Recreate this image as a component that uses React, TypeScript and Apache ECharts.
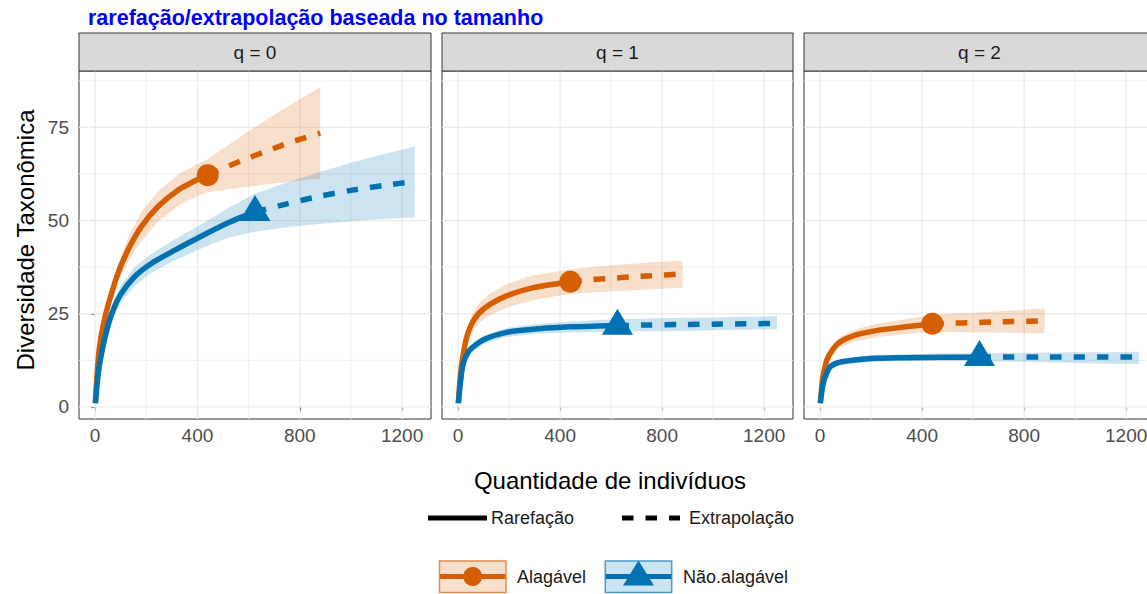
import React, { useEffect, useRef } from 'react';
import * as echarts from 'echarts';

const FONT = '"Liberation Sans", Arial, Helvetica, sans-serif';
const ORANGE = '#D55E00';
const BLUE = '#0072B2';
const ORANGE_BAND = 'rgba(213,94,0,0.2)';
const BLUE_BAND = 'rgba(0,114,178,0.2)';

const panelTitles = ['q = 0', 'q = 1', 'q = 2'];
const xTicks = [0, 400, 800, 1200];
const xMinor = [200, 600, 1000];
const yTicks = [0, 25, 50, 75];
const yMinor = [12.5, 37.5, 62.5, 87.5];

const alaObs = 440;
const naoObs = 625;

// ---------- q = 0 ----------
const alaQ0RareX = [1, 10, 20, 40, 60, 90, 130, 180, 245, 325, 400, 440];
const alaQ0RareY = [1, 11, 17.5, 24.5, 29.5, 36, 42.3, 48.3, 53.7, 58.2, 61, 62.2];
const alaQ0RareLo = [1, 10, 16, 22.8, 27.5, 33.8, 39, 44.3, 49.6, 54, 56.6, 57.6];
const alaQ0RareHi = [1, 12, 19, 26.2, 31.5, 38.2, 45.6, 52.3, 57.8, 62.4, 65.2, 66.5];
const alaQ0ExtX = [440, 520, 600, 680, 760, 880];
const alaQ0ExtY = [62.2, 64.6, 66.8, 68.9, 70.9, 73.5];
const alaQ0ExtLo = [57.6, 58.4, 59.1, 59.8, 60.4, 61.3];
const alaQ0ExtHi = [66.5, 70.3, 74, 77.5, 80.9, 85.8];

const naoQ0RareX = [1, 10, 20, 40, 65, 100, 155, 220, 310, 415, 520, 575, 625];
const naoQ0RareY = [1, 7.5, 12.5, 19, 25, 30.2, 35, 38.5, 42, 45.8, 49.4, 51, 52.3];
const naoQ0RareLo = [1, 6.8, 11.3, 17.5, 23, 27.8, 32.5, 36, 39.3, 42.5, 45.4, 46.3, 47];
const naoQ0RareHi = [1, 8.2, 13.7, 20.5, 27, 32.6, 37.6, 41.1, 44.9, 49, 53.4, 55.4, 57.3];
const naoQ0ExtX = [625, 750, 875, 1000, 1125, 1250];
const naoQ0ExtY = [52.3, 54.5, 56.5, 58.1, 59.4, 60.5];
const naoQ0ExtLo = [47, 48.2, 49.1, 49.8, 50.4, 50.9];
const naoQ0ExtHi = [57.3, 60.2, 63, 65.5, 67.8, 69.9];

// ---------- q = 1 ----------
const alaQ1RareX = [1, 10, 20, 35, 55, 80, 125, 190, 295, 400, 440];
const alaQ1RareY = [1, 9, 14, 19, 22.5, 25, 27.5, 29.8, 32, 33.2, 33.6];
const alaQ1RareLo = [1, 8.2, 12.6, 17.2, 20.2, 22.4, 24.6, 26.6, 28.7, 29.9, 30.3];
const alaQ1RareHi = [1, 9.8, 15.4, 20.8, 24.8, 27.6, 30.4, 33, 35.3, 36.5, 36.9];
const alaQ1ExtX = [440, 520, 600, 680, 760, 880];
const alaQ1ExtY = [33.6, 34.1, 34.5, 34.9, 35.2, 35.7];
const alaQ1ExtLo = [30.3, 30.7, 31, 31.3, 31.6, 32];
const alaQ1ExtHi = [36.9, 37.5, 38, 38.4, 38.8, 39.3];

const naoQ1RareX = [1, 10, 20, 45, 100, 190, 320, 440, 550, 625];
const naoQ1RareY = [1, 7, 11.5, 15.2, 18, 20, 21, 21.5, 21.7, 21.8];
const naoQ1RareLo = [1, 6.5, 10.7, 14.2, 16.9, 18.8, 19.7, 20, 20.1, 20.1];
const naoQ1RareHi = [1, 7.5, 12.3, 16.2, 19.1, 21.2, 22.3, 22.9, 23.3, 23.5];
const naoQ1ExtX = [625, 750, 875, 1000, 1125, 1250];
const naoQ1ExtY = [21.8, 22, 22.1, 22.2, 22.3, 22.4];
const naoQ1ExtLo = [20.1, 20.3, 20.4, 20.6, 20.7, 20.8];
const naoQ1ExtHi = [23.5, 23.7, 23.9, 24, 24.2, 24.3];

// ---------- q = 2 ----------
const alaQ2RareX = [1, 10, 20, 35, 70, 135, 230, 335, 440];
const alaQ2RareY = [1, 7.5, 11, 13.8, 17, 19.2, 20.6, 21.5, 22.3];
const alaQ2RareLo = [1, 6.9, 10, 12.6, 15.6, 17.6, 18.8, 19.5, 20.1];
const alaQ2RareHi = [1, 8.1, 12, 15, 18.4, 20.8, 22.4, 23.5, 24.6];
const alaQ2ExtX = [440, 520, 600, 680, 760, 880];
const alaQ2ExtY = [22.3, 22.5, 22.6, 22.8, 22.9, 23.1];
const alaQ2ExtLo = [20.1, 20.1, 20, 20, 19.9, 19.8];
const alaQ2ExtHi = [24.6, 25, 25.3, 25.6, 25.9, 26.4];

const naoQ2RareX = [1, 10, 20, 40, 85, 200, 330, 480, 625];
const naoQ2RareY = [1, 5.5, 8, 10.8, 12.1, 13, 13.2, 13.3, 13.4];
const naoQ2RareLo = [1, 5.1, 7.4, 10, 11.3, 12.1, 12.3, 12.3, 12.3];
const naoQ2RareHi = [1, 5.9, 8.6, 11.6, 12.9, 13.9, 14.1, 14.3, 14.4];
const naoQ2ExtX = [625, 750, 875, 1000, 1125, 1250];
const naoQ2ExtY = [13.4, 13.4, 13.4, 13.4, 13.4, 13.4];
const naoQ2ExtLo = [12.3, 12.1, 12, 11.8, 11.6, 11.5];
const naoQ2ExtHi = [14.4, 14.5, 14.6, 14.7, 14.7, 14.8];

type Curve = {
  rx: number[]; ry: number[]; rlo: number[]; rhi: number[];
  ex: number[]; ey: number[]; elo: number[]; ehi: number[];
};

const alaCurves: Curve[] = [
  { rx: alaQ0RareX, ry: alaQ0RareY, rlo: alaQ0RareLo, rhi: alaQ0RareHi, ex: alaQ0ExtX, ey: alaQ0ExtY, elo: alaQ0ExtLo, ehi: alaQ0ExtHi },
  { rx: alaQ1RareX, ry: alaQ1RareY, rlo: alaQ1RareLo, rhi: alaQ1RareHi, ex: alaQ1ExtX, ey: alaQ1ExtY, elo: alaQ1ExtLo, ehi: alaQ1ExtHi },
  { rx: alaQ2RareX, ry: alaQ2RareY, rlo: alaQ2RareLo, rhi: alaQ2RareHi, ex: alaQ2ExtX, ey: alaQ2ExtY, elo: alaQ2ExtLo, ehi: alaQ2ExtHi },
];
const naoCurves: Curve[] = [
  { rx: naoQ0RareX, ry: naoQ0RareY, rlo: naoQ0RareLo, rhi: naoQ0RareHi, ex: naoQ0ExtX, ey: naoQ0ExtY, elo: naoQ0ExtLo, ehi: naoQ0ExtHi },
  { rx: naoQ1RareX, ry: naoQ1RareY, rlo: naoQ1RareLo, rhi: naoQ1RareHi, ex: naoQ1ExtX, ey: naoQ1ExtY, elo: naoQ1ExtLo, ehi: naoQ1ExtHi },
  { rx: naoQ2RareX, ry: naoQ2RareY, rlo: naoQ2RareLo, rhi: naoQ2RareHi, ex: naoQ2ExtX, ey: naoQ2ExtY, elo: naoQ2ExtLo, ehi: naoQ2ExtHi },
];

const PANEL_LEFT = [79, 442, 804];
const PANEL_W = [352, 351, 351];
const PANEL_TOP = 71;
const PANEL_H = 348;
const STRIP_TOP = 33;
const STRIP_H = 38;

function bandSeries(i: number, c: Curve, fill: string, z: number) {
  const xs = c.rx.concat(c.ex.slice(1));
  const lo = c.rlo.concat(c.elo.slice(1));
  const hi = c.rhi.concat(c.ehi.slice(1));
  return {
    type: 'custom',
    xAxisIndex: i,
    yAxisIndex: i,
    z,
    silent: true,
    clip: true,
    data: xs.map((x, k) => [x, lo[k], hi[k]]),
    renderItem: (params: any, api: any) => {
      if (params.dataIndex !== 0) return null;
      const pts: number[][] = [];
      for (let k = 0; k < xs.length; k++) pts.push(api.coord([xs[k], hi[k]]));
      for (let k = xs.length - 1; k >= 0; k--) pts.push(api.coord([xs[k], lo[k]]));
      return { type: 'polygon', shape: { points: pts }, style: { fill } };
    },
  };
}

function gridLineSeries(i: number) {
  const data = [
    ...xTicks.map((v) => [0, v, 1]),
    ...xMinor.map((v) => [0, v, 0]),
    ...yTicks.map((v) => [1, v, 1]),
    ...yMinor.map((v) => [1, v, 0]),
  ];
  return {
    type: 'custom',
    xAxisIndex: i,
    yAxisIndex: i,
    z: 1,
    silent: true,
    clip: true,
    data,
    renderItem: (params: any, api: any) => {
      const cs = params.coordSys;
      const kind = api.value(0);
      const v = api.value(1);
      const major = api.value(2) === 1;
      const style = { stroke: major ? '#EBEBEB' : '#F0F0F0', lineWidth: major ? 1.3 : 1 };
      if (kind === 0) {
        const x = api.coord([v, 0])[0];
        return { type: 'line', shape: { x1: x, y1: cs.y, x2: x, y2: cs.y + cs.height }, style };
      }
      const y = api.coord([0, v])[1];
      return { type: 'line', shape: { x1: cs.x, y1: y, x2: cs.x + cs.width, y2: y }, style };
    },
  };
}

function lineSeries(i: number, xs: number[], ys: number[], color: string, dashed: boolean) {
  return {
    type: 'line',
    xAxisIndex: i,
    yAxisIndex: i,
    z: 3,
    silent: true,
    showSymbol: false,
    symbol: 'none',
    smooth: 0.25,
    clip: true,
    data: xs.map((x, k) => [x, ys[k]]),
    lineStyle: { color, width: 5.5, opacity: 1, type: dashed ? [11.5, 12] : 'solid', cap: 'butt', join: 'round' },
  };
}

function pointSeries(i: number, x: number, y: number, color: string, tri: boolean) {
  return {
    type: 'scatter',
    xAxisIndex: i,
    yAxisIndex: i,
    z: 4,
    silent: true,
    symbol: tri ? 'triangle' : 'circle',
    symbolSize: tri ? [31, 26] : 22,
    symbolOffset: tri ? [0, -4] : [0, 0],
    itemStyle: { color, opacity: 1 },
    data: [[x, y]],
  };
}

function App() {
  const ref = useRef<HTMLDivElement>(null);

  useEffect(() => {
    if (!ref.current) return;
    const chart = echarts.init(ref.current, undefined, { renderer: 'svg' });

    const grids: any[] = [];
    const xAxes: any[] = [];
    const yAxes: any[] = [];
    const series: any[] = [];
    const graphics: any[] = [];

    for (let i = 0; i < 3; i++) {
      grids.push({
        left: PANEL_LEFT[i],
        top: PANEL_TOP,
        width: PANEL_W[i],
        height: PANEL_H,
        show: true,
        containLabel: false,
        outerBoundsMode: 'none',
        borderColor: '#333333',
        borderWidth: 1,
        backgroundColor: 'transparent',
      });
      xAxes.push({
        type: 'value',
        gridIndex: i,
        min: -63,
        max: 1313,
        axisLine: { show: false },
        axisTick: { show: true, customValues: xTicks, length: 4, lineStyle: { color: '#333333', width: 1.1 } },
        axisLabel: {
          show: true, customValues: xTicks, color: '#4D4D4D', fontSize: 19, fontFamily: FONT, margin: 7,
          formatter: (v: number) => String(v),
        },
        splitLine: { show: false },
      });
      yAxes.push({
        type: 'value',
        gridIndex: i,
        min: -3.245,
        max: 90.145,
        axisLine: { show: false },
        axisTick: { show: i === 0, customValues: yTicks, length: 4, lineStyle: { color: '#333333', width: 1.1 } },
        axisLabel: {
          show: i === 0, customValues: yTicks, color: '#4D4D4D', fontSize: 19, fontFamily: FONT, margin: 10,
          formatter: (v: number) => String(v),
        },
        splitLine: { show: false },
      });

      series.push(gridLineSeries(i));
      const a = alaCurves[i];
      const n = naoCurves[i];
      series.push(bandSeries(i, a, ORANGE_BAND, 2));
      series.push(bandSeries(i, n, BLUE_BAND, 2));
      series.push(lineSeries(i, a.rx, a.ry, ORANGE, false));
      series.push(lineSeries(i, a.ex, a.ey, ORANGE, true));
      series.push(lineSeries(i, n.rx, n.ry, BLUE, false));
      series.push(lineSeries(i, n.ex, n.ey, BLUE, true));
      series.push(pointSeries(i, alaObs, a.ry[a.ry.length - 1], ORANGE, false));
      series.push(pointSeries(i, naoObs, n.ry[n.ry.length - 1], BLUE, true));

      graphics.push({
        type: 'rect',
        shape: { x: PANEL_LEFT[i], y: STRIP_TOP, width: PANEL_W[i], height: STRIP_H },
        style: { fill: '#D9D9D9', stroke: '#333333', lineWidth: 1 },
        z: 10,
      });
      graphics.push({
        type: 'text',
        x: PANEL_LEFT[i] + PANEL_W[i] / 2,
        y: STRIP_TOP + STRIP_H / 2 + 0.5,
        style: { text: panelTitles[i], fill: '#1A1A1A', font: `19px ${FONT}`, textAlign: 'center', textVerticalAlign: 'middle' },
        z: 11,
      });
    }

    // Title
    graphics.push({
      type: 'text', x: 88, y: 18,
      style: { text: 'rarefação/extrapolação baseada no tamanho', fill: '#0000FF', font: `bold 21.5px ${FONT}`, textAlign: 'left', textVerticalAlign: 'middle' },
      z: 11,
    });
    // Axis titles
    graphics.push({
      type: 'text', x: 25, y: 240, rotation: Math.PI / 2,
      style: { text: 'Diversidade Taxonômica', fill: '#000000', font: `24px ${FONT}`, textAlign: 'center', textVerticalAlign: 'middle' },
      z: 11,
    });
    graphics.push({
      type: 'text', x: 610, y: 480,
      style: { text: 'Quantidade de indivíduos', fill: '#000000', font: `24px ${FONT}`, textAlign: 'center', textVerticalAlign: 'middle' },
      z: 11,
    });

    // Legend: line types
    const lgY1 = 518;
    graphics.push({ type: 'line', shape: { x1: 428, y1: lgY1, x2: 487, y2: lgY1 }, style: { stroke: '#000', lineWidth: 5 }, z: 11 });
    graphics.push({
      type: 'text', x: 491, y: lgY1,
      style: { text: 'Rarefação', fill: '#1A1A1A', font: `18px ${FONT}`, textAlign: 'left', textVerticalAlign: 'middle' }, z: 11,
    });
    graphics.push({ type: 'line', shape: { x1: 622, y1: lgY1, x2: 680, y2: lgY1 }, style: { stroke: '#000', lineWidth: 5, lineDash: [11.5, 12] }, z: 11 });
    graphics.push({
      type: 'text', x: 689, y: lgY1,
      style: { text: 'Extrapolação', fill: '#1A1A1A', font: `18px ${FONT}`, textAlign: 'left', textVerticalAlign: 'middle' }, z: 11,
    });

    // Legend: assemblages
    const lgY2 = 576.5;
    graphics.push({ type: 'rect', shape: { x: 439.5, y: 561, width: 66.5, height: 31.5 }, style: { fill: ORANGE_BAND, stroke: '#E48C4E', lineWidth: 1.5 }, z: 11 });
    graphics.push({ type: 'line', shape: { x1: 440, y1: lgY2, x2: 505.5, y2: lgY2 }, style: { stroke: ORANGE, lineWidth: 5 }, z: 12 });
    graphics.push({ type: 'circle', shape: { cx: 472.7, cy: lgY2, r: 9.5 }, style: { fill: ORANGE }, z: 12 });
    graphics.push({
      type: 'text', x: 517, y: lgY2,
      style: { text: 'Alagável', fill: '#1A1A1A', font: `18px ${FONT}`, textAlign: 'left', textVerticalAlign: 'middle' }, z: 11,
    });
    graphics.push({ type: 'rect', shape: { x: 605.3, y: 561, width: 66.4, height: 31.5 }, style: { fill: BLUE_BAND, stroke: '#4A9BCB', lineWidth: 1.5 }, z: 11 });
    graphics.push({ type: 'line', shape: { x1: 605.8, y1: lgY2, x2: 671.2, y2: lgY2 }, style: { stroke: BLUE, lineWidth: 5 }, z: 12 });
    graphics.push({ type: 'polygon', shape: { points: [[638.5, 560.5], [654, 585.5], [623, 585.5]] }, style: { fill: BLUE }, z: 12 });
    graphics.push({
      type: 'text', x: 683, y: lgY2,
      style: { text: 'Não.alagável', fill: '#1A1A1A', font: `18px ${FONT}`, textAlign: 'left', textVerticalAlign: 'middle' }, z: 11,
    });

    chart.setOption({
      animation: false,
      backgroundColor: '#FFFFFF',
      grid: grids,
      xAxis: xAxes,
      yAxis: yAxes,
      series,
      graphic: graphics,
    });

    return () => chart.dispose();
  }, []);

  return <div ref={ref} style={{ position: 'fixed', left: 0, top: 0, width: 1147, height: 594 }} />;
}

export default App;
